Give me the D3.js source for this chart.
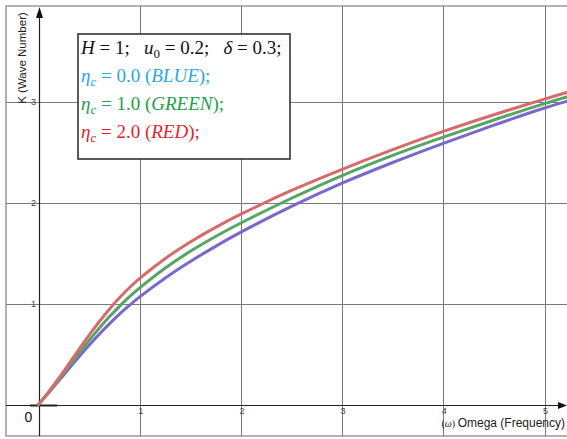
<!DOCTYPE html>
<html>
<head>
<meta charset="utf-8">
<script src="https://cdn.jsdelivr.net/npm/d3@7"></script>
<style>
  html, body { margin: 0; padding: 0; background: #fff; }
  svg { display: block; }
</style>
</head>
<body>
<svg id="chart" width="567" height="439"></svg>
<script>
// ---- data ----
const omega  = [0, 0.1, 0.2, 0.3, 0.4, 0.5, 0.6, 0.7, 0.8, 0.9, 1.0, 1.25, 1.5, 1.75, 2, 2.5, 3, 3.5, 4, 4.5, 5, 5.25];
const kBlue  = [0, 0.115, 0.234, 0.354, 0.472, 0.586, 0.695, 0.798, 0.894, 0.983, 1.066, 1.251, 1.416, 1.566, 1.706, 1.961, 2.191, 2.396, 2.586, 2.766, 2.936, 3.011];
const kGreen = [0, 0.120, 0.247, 0.377, 0.507, 0.634, 0.755, 0.868, 0.972, 1.067, 1.154, 1.349, 1.517, 1.664, 1.797, 2.042, 2.267, 2.467, 2.647, 2.817, 2.979, 3.054];
const kRed   = [0, 0.125, 0.260, 0.402, 0.546, 0.686, 0.819, 0.943, 1.056, 1.158, 1.249, 1.444, 1.609, 1.754, 1.884, 2.119, 2.329, 2.524, 2.704, 2.869, 3.024, 3.099];
const xTicks = [1, 2, 3, 4, 5];
const yTicks = [1, 2, 3];
const seriesColors = ["#7b68cc", "#55a564", "#d66b6b"];
const legendLabels = ["0.0", "1.0", "2.0"];
const legendWords = ["BLUE", "GREEN", "RED"];
const legendColors = ["#29a9e0", "#22a04a", "#e5242b"];

// ---- layout ----
const svg = d3.select("#chart");
const x = d3.scaleLinear().domain([0, 5]).range([38.5, 544.5]);
const y = d3.scaleLinear().domain([0, 3]).range([404.5, 101.5]);
const frameTop = 6, frameLeft = 6, frameBottom = 436, W = 567;

// frame
svg.append("path")
  .attr("d", `M${W},${frameTop}H${frameLeft}V${frameBottom}H${W}`)
  .attr("fill", "none").attr("stroke", "#9a9a9a").attr("stroke-width", 1.5);

// grid
svg.append("g").selectAll("line").data(xTicks).join("line")
  .attr("x1", d => Math.round(x(d)) + 0.5).attr("x2", d => Math.round(x(d)) + 0.5)
  .attr("y1", frameTop).attr("y2", frameBottom)
  .attr("stroke", "#7a7a7a").attr("stroke-width", 1);
svg.append("g").selectAll("line").data(yTicks).join("line")
  .attr("y1", d => Math.round(y(d)) + 0.5).attr("y2", d => Math.round(y(d)) + 0.5)
  .attr("x1", frameLeft).attr("x2", W)
  .attr("stroke", "#7a7a7a").attr("stroke-width", 1);

// axes
const x0 = Math.round(x(0)) + 0.5, y0 = Math.round(y(0)) + 0.5;
svg.append("line").attr("x1", frameLeft).attr("x2", W - 4).attr("y1", y0).attr("y2", y0)
  .attr("stroke", "#222").attr("stroke-width", 1.2);
svg.append("line").attr("x1", x0).attr("x2", x0).attr("y1", frameBottom).attr("y2", 14)
  .attr("stroke", "#222").attr("stroke-width", 1.2);
svg.append("line").attr("x1", 30).attr("x2", 57).attr("y1", y0).attr("y2", y0)
  .attr("stroke", "#222").attr("stroke-width", 2);
// arrows
svg.append("path").attr("d", `M${x0},7 L${x0 - 3.5},18 L${x0 + 3.5},18 Z`).attr("fill", "#111");
svg.append("path").attr("d", `M${W},${y0} L${W - 9},${y0 - 3.5} L${W - 9},${y0 + 3.5} Z`).attr("fill", "#111");

// tick labels
svg.append("g").selectAll("text").data(xTicks).join("text")
  .attr("x", d => x(d) + 1).attr("y", 414)
  .attr("text-anchor", "middle")
  .attr("font-family", "Liberation Sans, Arial, sans-serif").attr("font-size", 9)
  .attr("fill", "#444").text(d => d);
svg.append("g").selectAll("text").data(yTicks).join("text")
  .attr("x", 36).attr("y", d => y(d) + 3.5)
  .attr("text-anchor", "end")
  .attr("font-family", "Liberation Sans, Arial, sans-serif").attr("font-size", 9)
  .attr("fill", "#444").text(d => d);
svg.append("text").attr("x", 28.5).attr("y", 422).attr("text-anchor", "middle")
  .attr("font-family", "Liberation Sans, Arial, sans-serif").attr("font-size", 14)
  .attr("fill", "#111").text("0");

// axis titles
svg.append("text").attr("transform", "translate(26,58) rotate(-90)")
  .attr("text-anchor", "middle")
  .attr("font-family", "Liberation Sans, Arial, sans-serif").attr("font-size", 11.5)
  .attr("fill", "#222").text("K (Wave Number)");
const xt = svg.append("text").attr("x", 565).attr("y", 427).attr("text-anchor", "end")
  .attr("font-family", "Liberation Sans, Arial, sans-serif").attr("font-size", 12).attr("fill", "#222");
xt.append("tspan").attr("font-family", "Liberation Serif, serif").attr("font-size", 10).text("(");
xt.append("tspan").attr("font-family", "Liberation Serif, serif").attr("font-style", "italic").attr("font-size", 10).text("ω");
xt.append("tspan").attr("font-family", "Liberation Serif, serif").attr("font-size", 10).text(") ");
xt.append("tspan").text("Omega (Frequency)");

// curves
const series = [kBlue, kGreen, kRed];
const line = d3.line().x(d => x(d[0])).y(d => y(d[1])).curve(d3.curveCatmullRom.alpha(0.5));
svg.append("g").selectAll("path").data(series).join("path")
  .attr("d", s => line(omega.map((w, i) => [w, s[i]])))
  .attr("fill", "none")
  .attr("stroke", (s, i) => seriesColors[i])
  .attr("stroke-width", 3)
  .attr("stroke-linecap", "round");

// legend box
svg.append("rect").attr("x", 78).attr("y", 34).attr("width", 212).attr("height", 125)
  .attr("fill", "#fff").attr("stroke", "#333").attr("stroke-width", 1.6);

const serif = "Liberation Serif, 'DejaVu Serif', serif";
function addLine(yy, color, parts) {
  const t = svg.append("text").attr("x", 81).attr("y", yy)
    .attr("font-family", serif).attr("font-size", 19).attr("fill", color)
    .attr("xml:space", "preserve");
  parts.forEach(p => {
    const ts = t.append("tspan").text(p.t);
    if (p.i) ts.attr("font-style", "italic");
    if (p.sub) ts.attr("font-size", 13).attr("dy", 4);
    if (p.up) ts.attr("dy", -4);
  });
}
addLine(54, "#111", [
  {t: "H", i: 1}, {t: " = 1;   "}, {t: "u", i: 1}, {t: "0", sub: 1}, {t: " = 0.2;   ", up: 1},
  {t: "δ", i: 1}, {t: " = 0.3;"}
]);
legendLabels.forEach((v, i) => {
  addLine(82 + i * 28, legendColors[i], [
    {t: "η", i: 1}, {t: "c", i: 1, sub: 1}, {t: " = " + v + " (", up: 1},
    {t: legendWords[i], i: 1}, {t: ");"}
  ]);
});
</script>
</body>
</html>
